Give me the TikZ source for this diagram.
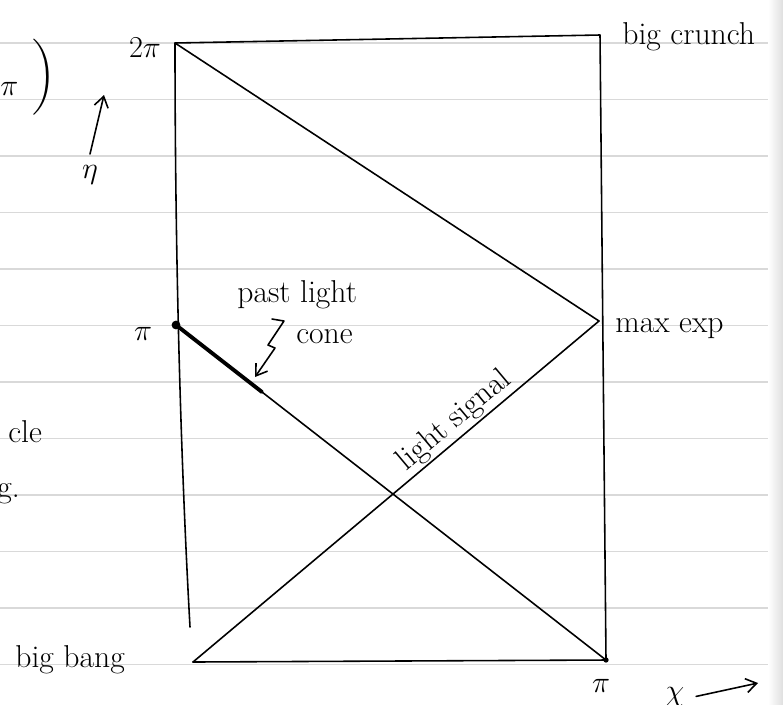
\documentclass[tikz,border=0pt]{standalone}
\usepackage{amsmath,amssymb}
\usepackage{tikz}
\usetikzlibrary{arrows.meta, calc}

\begin{document}
\begin{tikzpicture}[
    x=0.02cm, y=-0.02cm,
    pen/.style={line width=0.9pt, line cap=round, line join=round},
    heavypen/.style={line width=2.2pt, line cap=round},
    paperline/.style={draw=gray!30, line width=0.6pt},
    hand/.style={font=\fontsize{18}{21}\selectfont, inner sep=0pt},
    arrow/.style={pen, -{Straight Barb[length=6pt, width=8pt]}}
]
\useasboundingbox (0,0) rectangle (783,704);

% Lined paper
\foreach \k in {0,...,11}
    \draw[paperline] (0,{43+56.5*\k}) -- (783,{43+56.5*\k});
\shade[left color=white, right color=gray!25] (768,0) rectangle (783,704);

% Corners of the diagram
\coordinate (tl) at (175,43);
\coordinate (tr) at (600,35);
\coordinate (mx) at (599,321);
\coordinate (mid) at (176,325);
\coordinate (bb) at (193,662);
\coordinate (br) at (606,660);
\coordinate (lb) at (190,627);

% Frame
\draw[pen] (lb) .. controls (179,430) and (175,220) .. (tl) -- (tr) -- (br) -- (bb);

% Light rays
\draw[pen] (tl) -- (mx);
\draw[pen] (bb) -- (mx)
    node[hand, sloped, above=1pt, pos=0.67] (signal) {light signal};
\draw[pen] (mid) -- (br);
\draw[heavypen] (mid) -- ($(mid)!0.2!(br)$);
\fill (mid) circle (2.5pt);
\fill (br) circle (1.5pt);

% Axis labels
\node[hand, anchor=base] (twopi) at (145,57) {$2\pi$};
\node[hand, anchor=base] (leftpi) at (143,340) {$\pi$};
\node[hand, anchor=base] (botpi) at (601,692) {$\pi$};
\node[hand, anchor=base] (chi) at (675,700) {$\chi$};
\coordinate (chitip) at (758,683);
\draw[arrow] ([xshift=12pt]chi.center) -- (chitip);
\node[hand, anchor=base] (eta) at (90,178) {$\eta$};
\coordinate (etatip) at (104,95);
\draw[arrow] ([yshift=6pt]eta.north) -- (etatip);

% Events
\node[hand, anchor=base west] (crunch) at (622,44) {big crunch};
\node[hand, anchor=base west] (maxexp) at (615,332) {max exp};
\node[hand, anchor=base west] (bang) at (15,667) {big bang};

% Past light cone
\node[hand, anchor=base west] (pastl) at (237,302) {past light};
\node[hand, anchor=base west] (cone) at (296,343) {cone};
\coordinate (conetail) at (272,319);
\coordinate (conetip) at (255,377);
\draw[arrow] (conetail) -- (284,321) -- (268,345) -- (275,348) -- (conetip);

% Notes cut off at the left edge
\node[hand, anchor=base west] (topi) at (0,95) {$\pi$};
\node[hand] (paren) at (44,77) {$\bigg)$};
\node[hand, anchor=base west] (cle) at (8,442) {cle};
\node[hand, anchor=base west] (gdot) at (-3,497) {g.};

\end{tikzpicture}
\end{document}
